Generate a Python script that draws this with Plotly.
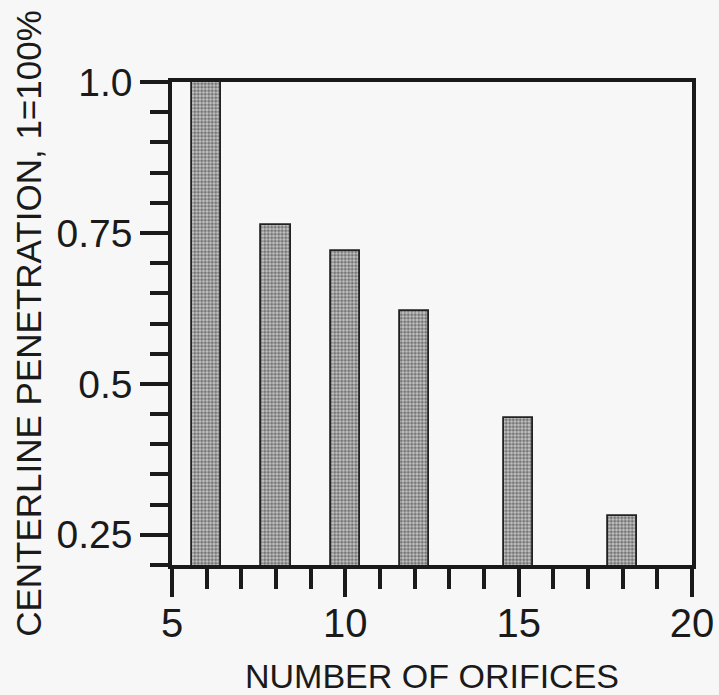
import plotly.graph_objects as go

# Centerline penetration versus number of orifices
orifices = [6, 8, 10, 12, 15, 18]
penetration = [1.0, 0.763, 0.72, 0.62, 0.443, 0.281]

y_tickvals = [0.25, 0.5, 0.75, 1.0]
y_ticktext = ["0.25", "0.5", "0.75", "1.0"]
x_tickvals = [5, 10, 15, 20]
x_ticktext = ["5", "10", "15", "20"]

ink = "#1a1a1a"
paper = "#f7f7f7"
font_family = "Liberation Sans, Arial, Helvetica, sans-serif"

fig = go.Figure()
fig.add_trace(go.Bar(
    x=orifices,
    y=penetration,
    width=0.85,
    marker=dict(
        color="#c0c0c0",
        line=dict(color="#222222", width=1.8),
        pattern=dict(shape=".", size=3.5, solidity=0.6,
                     fgcolor="#222222", bgcolor="#c8c8c8",
                     fillmode="overlay"),
    ),
    showlegend=False,
))

fig.update_layout(
    width=719, height=695,
    margin=dict(l=172, r=27, t=82, b=130, pad=0),
    paper_bgcolor=paper,
    plot_bgcolor=paper,
    font=dict(family=font_family, color=ink),
    bargap=0,
)

fig.update_xaxes(
    automargin=False,
    range=[5, 20],
    tickvals=x_tickvals, ticktext=x_ticktext,
    tickfont=dict(size=40, color=ink),
    ticklabelstandoff=-8,
    ticks="outside", ticklen=28, tickwidth=3.5, tickcolor=ink,
    minor=dict(dtick=1, tick0=5, ticks="outside", ticklen=20,
               tickwidth=3.5, tickcolor=ink, showgrid=False),
    showline=True, linewidth=3.5, linecolor=ink, mirror=True,
    showgrid=False, zeroline=False,
    title=dict(text="NUMBER OF ORIFICES", font=dict(size=34, color=ink),
               standoff=24),
)

fig.update_yaxes(
    automargin=False,
    range=[0.2, 1.0],
    tickvals=y_tickvals, ticktext=y_ticktext,
    tickfont=dict(size=39, color=ink),
    ticks="outside", ticklen=28, tickwidth=3.5, tickcolor=ink,
    minor=dict(dtick=0.05, tick0=0, ticks="outside", ticklen=18,
               tickwidth=3.5, tickcolor=ink, showgrid=False),
    showline=True, linewidth=3.5, linecolor=ink, mirror=True,
    showgrid=False, zeroline=False,
    title=dict(text="CENTERLINE PENETRATION, 1=100%",
               font=dict(size=35, color=ink), standoff=5),
)

fig.write_html("out.html")
